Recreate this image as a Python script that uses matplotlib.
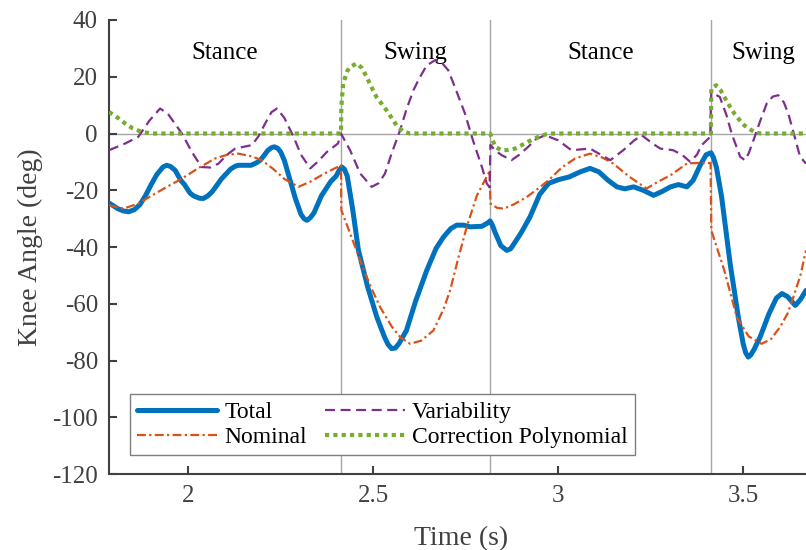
import matplotlib.pyplot as plt

# phase boundaries and labels
phase_lines = [2.413, 2.816, 3.413]
phase_names = ["Stance", "Swing", "Stance", "Swing"]
phase_x = [2.10, 2.614, 3.114, 3.554]

# Total (blue)
total_t = [1.786, 1.81, 1.825, 1.839, 1.855, 1.87, 1.885, 1.90, 1.915, 1.932,
           1.942, 1.952, 1.965, 1.98, 1.99, 2.005, 2.015, 2.03, 2.041, 2.053,
           2.065, 2.09, 2.115, 2.128, 2.136, 2.155, 2.17, 2.185, 2.195, 2.205,
           2.215, 2.225, 2.233, 2.242, 2.25, 2.26, 2.27, 2.29, 2.305, 2.313,
           2.321, 2.33, 2.34, 2.36, 2.385, 2.40, 2.408, 2.415, 2.422, 2.43,
           2.445, 2.46, 2.485, 2.51, 2.53, 2.54, 2.55, 2.56, 2.57, 2.59,
           2.615, 2.645, 2.67, 2.69, 2.71, 2.726, 2.745, 2.762, 2.794, 2.81,
           2.816, 2.823, 2.83, 2.845, 2.861, 2.872, 2.88, 2.90, 2.924, 2.95,
           2.974, 3.0, 3.03, 3.06, 3.086, 3.11, 3.135, 3.159, 3.18, 3.204,
           3.23, 3.258, 3.28, 3.304, 3.325, 3.348, 3.365, 3.384, 3.40, 3.413,
           3.42, 3.428, 3.442, 3.465, 3.487, 3.50, 3.507, 3.514, 3.521, 3.53,
           3.546, 3.57, 3.59, 3.605, 3.62, 3.641, 3.655, 3.67]
total = [-24.5, -26.5, -27.3, -27.6, -26.8, -25, -21.8, -18, -14.5, -11.8,
         -11.2, -11.6, -13, -16.5, -18, -21, -22, -22.8, -22.9, -22,
         -20.5, -16, -12.5, -11.5, -11.2, -11.2, -11.2, -10.3, -9.4, -7.8,
         -6, -5, -4.7, -5.2, -6.5, -9.5, -14, -23, -28.5, -30,
         -30.6, -29.7, -28, -22, -17, -15, -13, -11.8, -12.5, -15,
         -27, -41, -54, -64.7, -71.5, -74.3, -75.8, -75.6, -74, -69.4,
         -59, -48.2, -40.5, -36.5, -33.5, -32.3, -32.3, -32.9, -32.7, -31.5,
         -30.8, -32.5, -35, -39.5, -41.2, -40.6, -39, -35, -29.4, -21.5,
         -17.6, -16.3, -15.3, -13.5, -12.3, -13.5, -16.5, -18.8, -19.5, -18.8,
         -20, -21.8, -20.5, -18.8, -18, -18.8, -16.5, -11.2, -7.5, -6.8,
         -8.5, -12, -22.4, -45.9, -64.7, -74, -77.3, -78.8, -78, -76,
         -71.7, -63.5, -58, -56.4, -57.5, -60.6, -58.5, -55.3]

# Nominal (orange)
nom_t = [1.786, 1.825, 1.865, 1.90, 1.94, 1.983, 2.03, 2.073, 2.105, 2.136,
         2.17, 2.199, 2.23, 2.26, 2.298, 2.33, 2.37, 2.413, 2.414, 2.44,
         2.465, 2.49, 2.519, 2.55, 2.575, 2.60, 2.63, 2.663, 2.69, 2.708,
         2.73, 2.753, 2.78, 2.815, 2.817, 2.835, 2.853, 2.88, 2.915, 2.945,
         2.974, 3.01, 3.046, 3.086, 3.12, 3.149, 3.19, 3.239, 3.27, 3.304,
         3.348, 3.37, 3.412, 3.414, 3.449, 3.483, 3.515, 3.55, 3.575, 3.60,
         3.62, 3.636, 3.655, 3.67]
nominal = [-25.3, -26.5, -24.7, -22, -19, -15.9, -12, -8.8, -7.5, -7.1,
           -8, -9.4, -12.5, -16, -18.8, -17, -14, -11.2, -27, -36,
           -44.7, -53, -61.2, -68, -72, -74.1, -73, -69.4, -62, -55.3,
           -44, -32.9, -22, -13.2, -24.7, -26.2, -26.5, -25, -22.4, -19.5,
           -16.5, -12, -8.8, -7.1, -8.5, -10.6, -15, -19.4, -17, -14.7,
           -10.6, -10.4, -10.4, -34.1, -48.2, -64.7, -71.5, -74.1, -72.5, -68.2,
           -63.5, -57.6, -50, -41.2]

# Variability (purple)
var_t = [1.786, 1.83, 1.865, 1.895, 1.924, 1.945, 1.983, 2.01, 2.036, 2.06,
         2.082, 2.105, 2.127, 2.172, 2.19, 2.208, 2.225, 2.24, 2.26, 2.285,
         2.305, 2.33, 2.35, 2.375, 2.405, 2.413, 2.438, 2.465, 2.496, 2.515,
         2.532, 2.55, 2.573, 2.59, 2.609, 2.627, 2.645, 2.668, 2.685, 2.703,
         2.725, 2.748, 2.77, 2.794, 2.807, 2.815, 2.817, 2.83, 2.847, 2.874,
         2.895, 2.919, 2.94, 2.965, 3.0, 3.036, 3.086, 3.141, 3.176, 3.205,
         3.226, 3.255, 3.276, 3.311, 3.335, 3.357, 3.375, 3.388, 3.411, 3.414,
         3.419, 3.437, 3.455, 3.469, 3.492, 3.505, 3.515, 3.528, 3.545, 3.564,
         3.58, 3.595, 3.61, 3.622, 3.638, 3.654, 3.67]
variability = [-5.9, -3.5, -1.2, 4.5, 8.8, 7, 0, -6.5, -11.8, -12,
               -10.6, -7.5, -5.3, -4.1, -1, 3.5, 7.5, 8.8, 5.5, -1.2,
               -7.5, -12.3, -10, -6.5, -3.5, 0, -6, -14.1, -18.8, -17.5,
               -14.1, -7, 1.2, 8.5, 15.3, 20, 24, 25.9, 25, 22.3,
               15, 7.1, -2.5, -11.8, -17.6, -19, -4, -6, -7.6, -9.4,
               -7.5, -4.7, -2, -0.6, -2.4, -5.9, -5.3, -9.4, -5.9, -2.5,
               -0.6, -3.5, -5.3, -5.9, -7.5, -10, -7.5, -4.1, -1.2, 14.7,
               14.1, 12.9, 6.5, 0, -8.2, -9.4, -7, -2.4, 4, 10.6,
               13, 13.5, 11, 7.1, -0.5, -8.2, -10.6]

# Correction Polynomial (green)
corr_t = [1.786, 1.81, 1.83, 1.85, 1.874, 1.90, 2.413, 2.414, 2.419, 2.43,
          2.438, 2.456, 2.47, 2.482, 2.495, 2.509, 2.536, 2.55, 2.563, 2.582,
          2.60, 2.816, 2.83, 2.847, 2.865, 2.884, 2.919, 2.946, 2.969, 2.985,
          3.413, 3.414, 3.427, 3.438, 3.449, 3.462, 3.476, 3.49, 3.503, 3.522,
          3.537, 3.55, 3.67]
correction = [7.6, 5.5, 3.5, 1.8, 0.6, 0, 0, 9.4, 17.6, 22,
              23.5, 24.7, 23, 20, 16.5, 12.9, 8.2, 5.5, 2.9, 0.6,
              0, 0, -4.7, -5.9, -5.8, -5.3, -2.9, -1.2, -0.2, 0,
              0, 15.9, 17, 15.5, 12.9, 10, 7.1, 4.8, 2.9, 1.2,
              0.2, 0, 0]

plt.rcParams["font.family"] = ["Liberation Serif", "DejaVu Serif"]
plt.rcParams["axes.unicode_minus"] = False

fig = plt.figure(figsize=(8.06, 5.5), dpi=100)
ax = fig.add_axes([109 / 806, 76 / 550, 1 - 109 / 806, 454 / 550])

gray = "#a6a6a6"
ax.axhline(0, color=gray, lw=1, zorder=1)
for xv in phase_lines:
    ax.axvline(xv, color=gray, lw=1, zorder=1)

ax.plot(total_t, total, color="#0072BD", lw=3.6, label="Total", zorder=3,
        solid_capstyle="round", solid_joinstyle="round")
ax.plot(nom_t, nominal, color="#D95319", lw=1.6, dashes=(4, 1.5, 1, 1.5),
        label="Nominal", zorder=4)
ax.plot(var_t, variability, color="#7E2F8E", lw=1.6, dashes=(4.5, 2.5),
        label="Variability", zorder=4)
ax.plot(corr_t, correction, color="#77AC30", lw=3, dashes=(1, 1),
        label="Correction Polynomial", zorder=5)

for xp, name in zip(phase_x, phase_names):
    ax.text(xp, 28.5, name, ha="center", va="center", fontsize=18, color="black")

ax.set_xlim(1.786, 3.67)
ax.set_ylim(-120, 40)
ax.set_xticks([2, 2.5, 3, 3.5])
ax.set_xticklabels(["2", "2.5", "3", "3.5"])
ax.set_yticks(range(-120, 41, 20))

for side in ["top", "right"]:
    ax.spines[side].set_visible(False)
for side in ["left", "bottom"]:
    ax.spines[side].set_color("#404040")
    ax.spines[side].set_linewidth(1.5)
ax.tick_params(direction="in", length=6, width=1.5, colors="#404040",
               labelsize=18, pad=8)

ax.set_xlabel("Time (s)", fontsize=20, color="#404040")
ax.set_ylabel("Knee Angle (deg)", fontsize=20, color="#404040")
ax.xaxis.set_label_coords(0.505, -0.115)
ax.yaxis.set_label_coords(-0.094, 0.5)

leg = ax.legend(ncol=2, loc="lower left", bbox_to_anchor=(0.030, 0.042),
                borderaxespad=0, fontsize=17, fancybox=False, framealpha=1,
                edgecolor="#7f7f7f", handlelength=3.4, handletextpad=0.3,
                columnspacing=0.75, labelspacing=0.15, borderpad=0.3)
leg.get_frame().set_linewidth(1)

fig.savefig("out.png", dpi=100)
